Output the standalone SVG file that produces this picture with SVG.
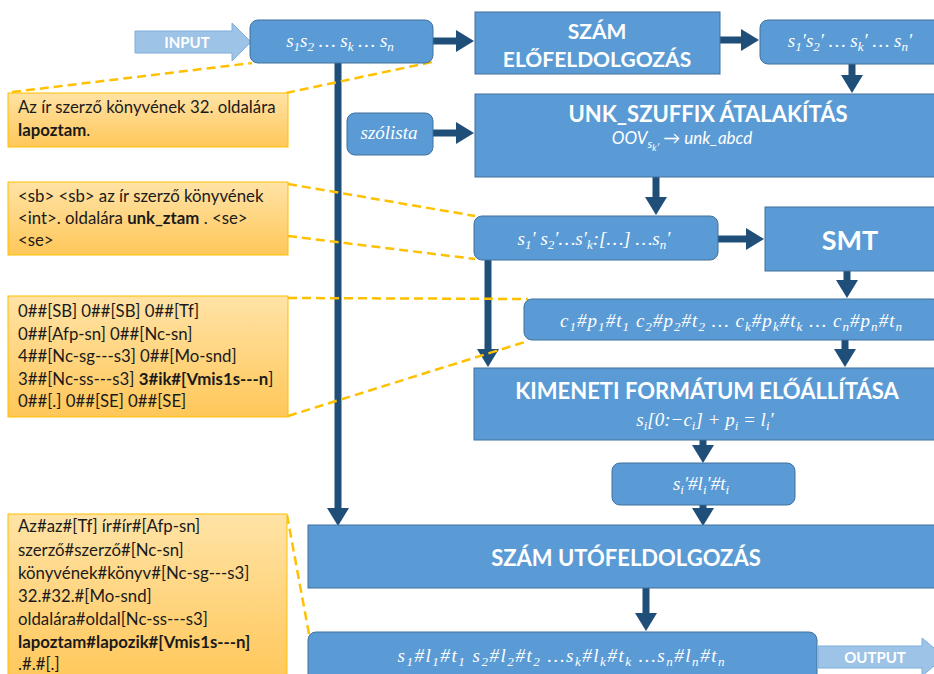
<svg xmlns="http://www.w3.org/2000/svg" width="934" height="674" viewBox="0 0 934 674">
<defs>
<linearGradient id="og" x1="0" y1="0" x2="0" y2="1">
<stop offset="0" stop-color="#FFE3A6"/>
<stop offset="1" stop-color="#FFC759"/>
</linearGradient>
<marker id="ah" markerUnits="userSpaceOnUse" markerWidth="22" markerHeight="24" refX="2" refY="12" orient="auto">
<path d="M2,1 L20,12 L2,23 Z" fill="#1F4E79"/>
</marker>
<style>
.blk{fill:#5B9BD5;stroke:#41719C;stroke-width:1}
.call{fill:url(#og);stroke:#FFC000;stroke-width:1}
.con{stroke:#1F4E79;stroke-width:7;fill:none;marker-end:url(#ah)}
.dash{stroke:#FFC000;stroke-width:2.5;stroke-dasharray:9,5;fill:none}
.ttl{font-family:Lato,"Open Sans",sans-serif;font-weight:bold;fill:#fff;text-anchor:middle}
.math{font-family:"Liberation Serif","DejaVu Serif",serif;font-style:italic;fill:#fff;text-anchor:middle;font-size:19px}
.sub{font-size:13px}
.ct{font-family:Lato,"Open Sans",sans-serif;font-size:16.8px;fill:#1a1a1a}
.b{font-weight:bold}
.io{fill:#9DC3E6;stroke:#7FAEDB;stroke-width:1}
.iot{font-family:Lato,"Open Sans",sans-serif;font-weight:bold;fill:#fff;text-anchor:middle;font-size:15px}
</style>
</defs>
<rect width="934" height="674" fill="#fff"/>

<g id="connectors">
<line class="con" x1="433" y1="41" x2="456" y2="41"/>
<line class="con" x1="720" y1="40" x2="741" y2="40"/>
<line class="con" x1="852" y1="64" x2="852" y2="75"/>
<line class="con" x1="433" y1="133" x2="456" y2="133"/>
<line class="con" x1="656" y1="177" x2="656" y2="197"/>
<line class="con" x1="718" y1="239" x2="746" y2="239"/>
<line class="con" x1="847" y1="271" x2="847" y2="280"/>
<line class="con" x1="488" y1="260" x2="488" y2="349"/>
<line class="con" x1="845" y1="340" x2="845" y2="349"/>
<line class="con" x1="703" y1="440" x2="703" y2="445"/>
<line class="con" x1="703" y1="505" x2="703" y2="508"/>
<line class="con" x1="338" y1="63" x2="338" y2="508"/>
<line class="con" x1="646" y1="588" x2="646" y2="613"/>
</g>

<g id="callout-lines">
<line class="dash" x1="12" y1="92" x2="252" y2="63"/>
<line class="dash" x1="286" y1="93" x2="432" y2="62"/>
<line class="dash" x1="288" y1="184" x2="475" y2="216"/>
<line class="dash" x1="288" y1="236" x2="475" y2="259"/>
<line class="dash" x1="288" y1="298" x2="528" y2="299"/>
<line class="dash" x1="288" y1="416" x2="528" y2="341"/>
<line class="dash" x1="287" y1="515" x2="309" y2="634"/>
</g>

<g id="input">
<polygon class="io" points="135,31 232,31 232,23 251,42 232,61 232,53 135,53"/>
<text class="iot" x="187" y="48">INPUT</text>
</g>

<g id="s-input">
<rect class="blk" x="250" y="20" width="183" height="43" rx="8"/>
<text class="math" x="340" y="47">s<tspan class="sub" dy="4">1</tspan><tspan dy="-4">s</tspan><tspan class="sub" dy="4">2</tspan><tspan dy="-4"> … s</tspan><tspan class="sub" dy="4">k</tspan><tspan dy="-4"> … s</tspan><tspan class="sub" dy="4">n</tspan></text>
</g>

<g id="szam-elo">
<rect class="blk" x="475" y="12" width="245" height="62"/>
<text class="ttl" x="597" y="39" font-size="21">SZÁM</text>
<text class="ttl" x="597" y="67" font-size="21">ELŐFELDOLGOZÁS</text>
</g>

<g id="s-prime">
<rect class="blk" x="760" y="20" width="182" height="44" rx="8"/>
<text class="math" x="850" y="47">s<tspan class="sub" dy="4">1</tspan><tspan dy="-4">′s</tspan><tspan class="sub" dy="4">2</tspan><tspan dy="-4">′ … s</tspan><tspan class="sub" dy="4">k</tspan><tspan dy="-4">′ … s</tspan><tspan class="sub" dy="4">n</tspan><tspan dy="-4">′</tspan></text>
</g>

<g id="unk">
<rect class="blk" x="475" y="94" width="466" height="83"/>
<text class="ttl" x="708" y="122" font-size="22">UNK_SZUFFIX ÁTALAKÍTÁS</text>
<text x="682" y="144" fill="#fff" text-anchor="middle" font-family="Lato,'Open Sans',sans-serif" font-style="italic" font-size="17">OOV<tspan font-size="12" dy="4">s</tspan><tspan font-size="9" dy="3">k′</tspan><tspan dy="-7"> → unk_abcd</tspan></text>
</g>

<g id="szolista">
<rect class="blk" x="347" y="113" width="86" height="42" rx="8"/>
<text class="math" x="389" y="139" font-size="20">szólista</text>
</g>

<g id="s-unk">
<rect class="blk" x="474" y="216" width="244" height="44" rx="8"/>
<text class="math" x="594" y="245">s<tspan class="sub" dy="4">1</tspan><tspan dy="-4">′ s</tspan><tspan class="sub" dy="4">2</tspan><tspan dy="-4">′…s′</tspan><tspan class="sub" dy="4">k</tspan><tspan dy="-4">:[…] …s</tspan><tspan class="sub" dy="4">n</tspan><tspan dy="-4">′</tspan></text>
</g>

<g id="smt">
<rect class="blk" x="765" y="207" width="176" height="64"/>
<text class="ttl" x="850" y="250" font-size="27">SMT</text>
</g>

<g id="c-seq">
<rect class="blk" x="524" y="299" width="417" height="41" rx="8"/>
<text class="math" x="731" y="327" textLength="342" lengthAdjust="spacing">c<tspan class="sub" dy="4">1</tspan><tspan dy="-4">#p</tspan><tspan class="sub" dy="4">1</tspan><tspan dy="-4">#t</tspan><tspan class="sub" dy="4">1</tspan><tspan dy="-4"> c</tspan><tspan class="sub" dy="4">2</tspan><tspan dy="-4">#p</tspan><tspan class="sub" dy="4">2</tspan><tspan dy="-4">#t</tspan><tspan class="sub" dy="4">2</tspan><tspan dy="-4">  … c</tspan><tspan class="sub" dy="4">k</tspan><tspan dy="-4">#p</tspan><tspan class="sub" dy="4">k</tspan><tspan dy="-4">#t</tspan><tspan class="sub" dy="4">k</tspan><tspan dy="-4"> … c</tspan><tspan class="sub" dy="4">n</tspan><tspan dy="-4">#p</tspan><tspan class="sub" dy="4">n</tspan><tspan dy="-4">#t</tspan><tspan class="sub" dy="4">n</tspan></text>
</g>

<g id="kimeneti">
<rect class="blk" x="474" y="368" width="467" height="72"/>
<text class="ttl" x="707" y="399" font-size="22">KIMENETI FORMÁTUM ELŐÁLLÍTÁSA</text>
<text class="math" x="705" y="426">s<tspan class="sub" dy="4">i</tspan><tspan dy="-4">[0:−c</tspan><tspan class="sub" dy="4">i</tspan><tspan dy="-4">] + p</tspan><tspan class="sub" dy="4">i</tspan><tspan dy="-4"> = l</tspan><tspan class="sub" dy="4">i</tspan><tspan dy="-4">′</tspan></text>
</g>

<g id="sli">
<rect class="blk" x="612" y="463" width="183" height="42" rx="8"/>
<text class="math" x="701" y="490">s<tspan class="sub" dy="4">i</tspan><tspan dy="-4">′#l</tspan><tspan class="sub" dy="4">i</tspan><tspan dy="-4">′#t</tspan><tspan class="sub" dy="4">i</tspan></text>
</g>

<g id="szam-uto">
<rect class="blk" x="308" y="525" width="633" height="63"/>
<text class="ttl" x="626" y="566" font-size="22">SZÁM UTÓFELDOLGOZÁS</text>
</g>

<g id="output-seq">
<rect class="blk" x="308" y="632" width="509" height="50" rx="8"/>
<text class="math" x="561" y="662" textLength="327" lengthAdjust="spacing">s<tspan class="sub" dy="4">1</tspan><tspan dy="-4">#l</tspan><tspan class="sub" dy="4">1</tspan><tspan dy="-4">#t</tspan><tspan class="sub" dy="4">1</tspan><tspan dy="-4">  s</tspan><tspan class="sub" dy="4">2</tspan><tspan dy="-4">#l</tspan><tspan class="sub" dy="4">2</tspan><tspan dy="-4">#t</tspan><tspan class="sub" dy="4">2</tspan><tspan dy="-4">  …s</tspan><tspan class="sub" dy="4">k</tspan><tspan dy="-4">#l</tspan><tspan class="sub" dy="4">k</tspan><tspan dy="-4">#t</tspan><tspan class="sub" dy="4">k</tspan><tspan dy="-4"> …s</tspan><tspan class="sub" dy="4">n</tspan><tspan dy="-4">#l</tspan><tspan class="sub" dy="4">n</tspan><tspan dy="-4">#t</tspan><tspan class="sub" dy="4">n</tspan></text>
</g>

<g id="output">
<polygon class="io" points="818,646 922,646 922,638 945,657 922,676 922,668 818,668"/>
<text class="iot" x="875" y="663">OUTPUT</text>
</g>

<g id="callout1">
<rect class="call" x="8" y="93" width="280" height="54"/>
<text class="ct" x="18" y="113">Az ír szerző könyvének 32. oldalára</text>
<text class="ct" x="18" y="136"><tspan class="b">lapoztam</tspan>.</text>
</g>

<g id="callout2">
<rect class="call" x="8" y="182" width="280" height="73"/>
<text class="ct" x="18" y="202">&lt;sb&gt; &lt;sb&gt; az ír szerző könyvének</text>
<text class="ct" x="18" y="224">&lt;int&gt;. oldalára <tspan class="b">unk_ztam</tspan> . &lt;se&gt;</text>
<text class="ct" x="18" y="246">&lt;se&gt;</text>
</g>

<g id="callout3">
<rect class="call" x="8" y="296" width="280" height="121"/>
<text class="ct" x="18" y="317">0##[SB] 0##[SB] 0##[Tf]</text>
<text class="ct" x="18" y="340">0##[Afp-sn] 0##[Nc-sn]</text>
<text class="ct" x="18" y="362">4##[Nc-sg---s3] 0##[Mo-snd]</text>
<text class="ct" x="18" y="385">3##[Nc-ss---s3] <tspan class="b">3#ik#[Vmis1s---n</tspan>]</text>
<text class="ct" x="18" y="407">0##[.] 0##[SE] 0##[SE]</text>
</g>

<g id="callout4">
<rect class="call" x="8" y="514" width="279" height="170"/>
<text class="ct" x="18" y="532">Az#az#[Tf] ír#ír#[Afp-sn]</text>
<text class="ct" x="18" y="556">szerző#szerző#[Nc-sn]</text>
<text class="ct" x="18" y="579">könyvének#könyv#[Nc-sg---s3]</text>
<text class="ct" x="18" y="602">32.#32.#[Mo-snd]</text>
<text class="ct" x="18" y="625">oldalára#oldal[Nc-ss---s3]</text>
<text class="ct" x="18" y="648" font-weight="bold">lapoztam#lapozik#[Vmis1s---n]</text>
<text class="ct" x="18" y="670">.#.#[.]</text>
</g>
</svg>
